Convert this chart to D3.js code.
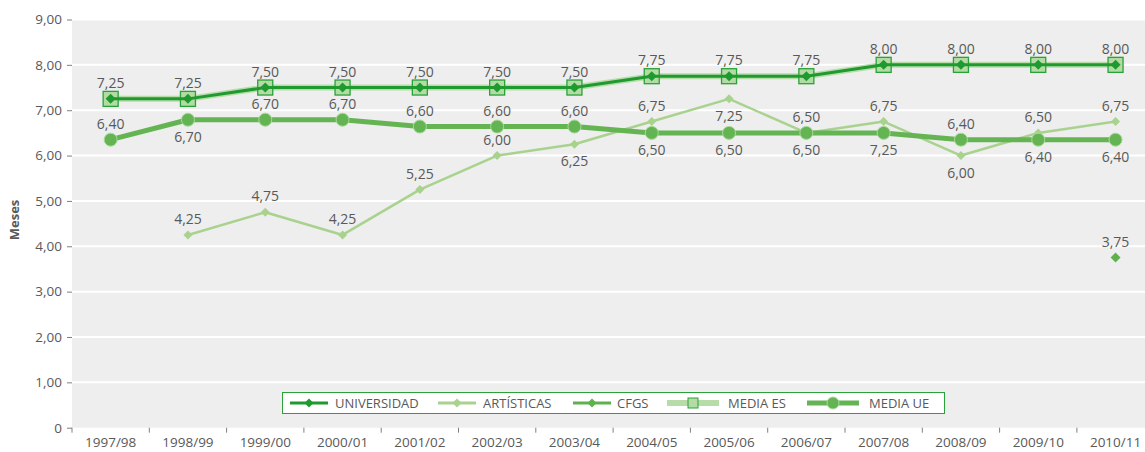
<!DOCTYPE html>
<html>
<head>
<meta charset="utf-8">
<script src="https://cdn.jsdelivr.net/npm/d3@7"></script>
<style>
  html, body { margin: 0; padding: 0; background: #ffffff; }
  svg { display: block; }
  text { font-family: "Open Sans", "Noto Sans", sans-serif; }
</style>
</head>
<body>
<svg id="chart" width="1145" height="452"></svg>
<script>
// ---------- data ----------
const categories = ["1997/98","1998/99","1999/00","2000/01","2001/02","2002/03","2003/04","2004/05","2005/06","2006/07","2007/08","2008/09","2009/10","2010/11"];
const yTicks = [0,1,2,3,4,5,6,7,8,9];

const universidad = [7.25,7.25,7.5,7.5,7.5,7.5,7.5,7.75,7.75,7.75,8,8,8,8];
const artisticas  = [null,4.25,4.75,4.25,5.25,6.0,6.25,6.75,7.25,6.5,6.75,6.0,6.5,6.75];
const cfgs        = [null,null,null,null,null,null,null,null,null,null,null,null,null,3.75];
const mediaES     = [7.25,7.25,7.5,7.5,7.5,7.5,7.5,7.75,7.75,7.75,8,8,8,8];
const mediaUE     = [6.35,6.79,6.79,6.79,6.64,6.64,6.64,6.5,6.5,6.5,6.5,6.35,6.35,6.35];

// data label texts as printed in the chart
const universidadLabels = ["7,25","7,25","7,50","7,50","7,50","7,50","7,50","7,75","7,75","7,75","8,00","8,00","8,00","8,00"];
const artisticasLabels  = [null,"4,25","4,75","4,25","5,25","6,00","6,25","6,75","7,25","6,50","6,75","6,00","6,50","6,75"];
const cfgsLabels        = [null,null,null,null,null,null,null,null,null,null,null,null,null,"3,75"];
const mediaUELabels     = ["6,40","6,70","6,70","6,70","6,60","6,60","6,60","6,50","6,50","6,50","7,25","6,40","6,40","6,40"];
// label side: 1 = above, -1 = below
const artisticasLabelSide = [0,1,1,1,1,1,-1,1,-1,1,1,-1,1,1];
const mediaUELabelSide    = [1,-1,1,1,1,1,1,-1,-1,-1,-1,1,-1,-1];

const seriesNames = ["UNIVERSIDAD","ARTÍSTICAS","CFGS","MEDIA ES","MEDIA UE"];

// ---------- layout ----------
const svg = d3.select("#chart");
const W = 1145, H = 452;
const plot = {left: 72, top: 19.5, right: 1145, bottom: 427.7};
const band = 77.3;

const x = d3.scaleBand().domain(categories).range([plot.left, plot.left + band * categories.length]).padding(0);
const y = d3.scaleLinear().domain([0, 9]).range([plot.bottom, plot.top]);
const cx = c => x(c) + x.bandwidth() / 2;

const C = {
  uni: "#1f9a30",
  art: "#a9d28f",
  cfgs: "#5fb14e",
  esLine: "#b8dca8",
  esFill: "#b3dba3",
  esStroke: "#2aa23a",
  ue: "#65b454",
  ueStroke: "#a9d99b",
  text: "#595959",
  tick: "#808080"
};

// background
svg.append("rect").attr("x", plot.left).attr("y", plot.top - 0.5)
  .attr("width", plot.right - plot.left).attr("height", plot.bottom - plot.top + 0.5)
  .attr("fill", "#edeeed");

// gridlines
svg.append("g").selectAll("line").data(yTicks.filter(d => d > 0)).join("line")
  .attr("x1", plot.left).attr("x2", plot.right)
  .attr("y1", d => y(d)).attr("y2", d => y(d))
  .attr("stroke", "#ffffff").attr("stroke-width", 2);

// y axis
const yAxis = d3.axisLeft(y).tickValues(yTicks).tickSize(5).tickPadding(5)
  .tickFormat(d => d === 0 ? "0" : d.toFixed(2).replace(".", ","));
const gy = svg.append("g").attr("transform", `translate(${plot.left},0)`).call(yAxis);
gy.select(".domain").remove();
gy.selectAll(".tick line").attr("stroke", C.tick);
gy.selectAll(".tick text").attr("fill", C.text).style("font-size", "13.5px").style("font-family", "'Open Sans', sans-serif");

// x axis (labels centered, ticks at band boundaries)
const xAxis = d3.axisBottom(x).tickSize(0).tickPadding(10);
const gx = svg.append("g").attr("transform", `translate(0,${plot.bottom})`).call(xAxis);
gx.select(".domain").remove();
gx.selectAll(".tick text").attr("fill", C.text).style("font-size", "13.5px").style("font-family", "'Open Sans', sans-serif");
svg.append("g").selectAll("line").data(categories).join("line")
  .attr("x1", d => x(d)).attr("x2", d => x(d))
  .attr("y1", plot.bottom).attr("y2", plot.bottom + 5)
  .attr("stroke", C.tick);

// y title
svg.append("text").attr("transform", `translate(19,220) rotate(-90)`)
  .attr("text-anchor", "middle").attr("fill", C.text)
  .style("font-size", "13px").style("font-weight", "bold").text("Meses");

// helpers
const pts = arr => categories.map((c, i) => ({c, v: arr[i], i})).filter(d => d.v != null);
const lineGen = d3.line().defined(d => d.v != null).x(d => cx(d.c)).y(d => y(d.v));
const diamond = s => `M0,${-s} L${s},0 L0,${s} L${-s},0 Z`;

// MEDIA ES line (wide, light)
svg.append("path").datum(pts(mediaES)).attr("d", lineGen)
  .attr("fill", "none").attr("stroke", C.esLine).attr("stroke-width", 6).attr("stroke-linejoin", "round");

// ARTÍSTICAS
svg.append("path").datum(pts(artisticas)).attr("d", lineGen)
  .attr("fill", "none").attr("stroke", C.art).attr("stroke-width", 2.5).attr("stroke-linejoin", "round");
svg.append("g").selectAll("path").data(pts(artisticas)).join("path")
  .attr("transform", d => `translate(${cx(d.c)},${y(d.v)})`)
  .attr("d", diamond(4.5)).attr("fill", C.art);

// MEDIA UE
svg.append("path").datum(pts(mediaUE)).attr("d", lineGen)
  .attr("fill", "none").attr("stroke", C.ue).attr("stroke-width", 5).attr("stroke-linejoin", "round");
svg.append("g").selectAll("circle").data(pts(mediaUE)).join("circle")
  .attr("cx", d => cx(d.c)).attr("cy", d => y(d.v)).attr("r", 6.5)
  .attr("fill", C.ue).attr("stroke", C.ueStroke).attr("stroke-width", 1);

// MEDIA ES squares
svg.append("g").selectAll("rect").data(pts(mediaES)).join("rect")
  .attr("x", d => cx(d.c) - 7.5).attr("y", d => y(d.v) - 7.5)
  .attr("width", 15).attr("height", 15)
  .attr("fill", C.esFill).attr("stroke", C.esStroke).attr("stroke-width", 1.3);

// UNIVERSIDAD
svg.append("path").datum(pts(universidad)).attr("d", lineGen)
  .attr("fill", "none").attr("stroke", C.uni).attr("stroke-width", 3).attr("stroke-linejoin", "round");
svg.append("g").selectAll("path").data(pts(universidad)).join("path")
  .attr("transform", d => `translate(${cx(d.c)},${y(d.v)})`)
  .attr("d", diamond(5)).attr("fill", C.uni);

// CFGS
svg.append("g").selectAll("path").data(pts(cfgs)).join("path")
  .attr("transform", d => `translate(${cx(d.c)},${y(d.v)})`)
  .attr("d", diamond(5)).attr("fill", C.cfgs);

// data labels
function labels(arr, texts, sides) {
  const data = pts(arr).filter(d => texts[d.i] != null);
  svg.append("g").selectAll("text").data(data).join("text")
    .attr("x", d => cx(d.c))
    .attr("y", d => y(d.v) + ((sides ? sides[d.i] : 1) > 0 ? -11 : 22))
    .attr("text-anchor", "middle").attr("fill", C.text)
    .style("font-size", "14px")
    .text(d => texts[d.i]);
}
labels(universidad, universidadLabels, null);
labels(artisticas, artisticasLabels, artisticasLabelSide);
labels(mediaUE, mediaUELabels, mediaUELabelSide);
labels(cfgs, cfgsLabels, null);

// legend
const lg = svg.append("g");
lg.append("rect").attr("x", 282.5).attr("y", 392.5).attr("width", 662).attr("height", 21)
  .attr("fill", "#ffffff").attr("stroke", C.esStroke).attr("stroke-width", 1);
const ly = 403;
const legendItems = [
  {name: seriesNames[0], x1: 290, x2: 328, tx: 335, stroke: C.uni, w: 3, marker: "diamond", mfill: C.uni, ms: 4.5},
  {name: seriesNames[1], x1: 438, x2: 476, tx: 483, stroke: C.art, w: 3, marker: "diamond", mfill: C.art, ms: 4.5},
  {name: seriesNames[2], x1: 573, x2: 611, tx: 617, stroke: C.cfgs, w: 3, marker: "diamond", mfill: C.cfgs, ms: 4.5},
  {name: seriesNames[3], x1: 667, x2: 719, tx: 728, stroke: C.esLine, w: 6, marker: "square"},
  {name: seriesNames[4], x1: 807, x2: 859, tx: 869, stroke: C.ue, w: 5, marker: "circle"}
];
legendItems.forEach(it => {
  lg.append("line").attr("x1", it.x1).attr("x2", it.x2).attr("y1", ly).attr("y2", ly)
    .attr("stroke", it.stroke).attr("stroke-width", it.w);
  const mx = (it.x1 + it.x2) / 2;
  if (it.marker === "diamond") {
    lg.append("path").attr("transform", `translate(${mx},${ly})`).attr("d", diamond(it.ms)).attr("fill", it.mfill);
  } else if (it.marker === "square") {
    lg.append("rect").attr("x", mx - 5).attr("y", ly - 5).attr("width", 10).attr("height", 10)
      .attr("fill", C.esFill).attr("stroke", C.esStroke).attr("stroke-width", 1);
  } else {
    lg.append("circle").attr("cx", mx).attr("cy", ly).attr("r", 6)
      .attr("fill", C.ue).attr("stroke", C.ueStroke).attr("stroke-width", 1);
  }
  lg.append("text").attr("x", it.tx).attr("y", ly).attr("dy", "0.35em")
    .attr("fill", C.text).style("font-size", "13px").text(it.name);
});
</script>
</body>
</html>
